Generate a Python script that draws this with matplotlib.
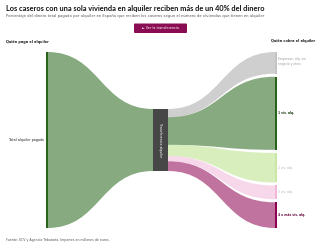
import matplotlib.pyplot as plt
from matplotlib.path import Path
from matplotlib.patches import PathPatch, FancyBboxPatch

# Data (importes en millones de euros, estimados)
source_label = "Total alquiler pagado"
middle_label = "Transferencia alquiler"
targets = ["Empresas, alq. sin\nnegocio y otros", "1 viv. alq.", "2 viv. alq.",
           "3 viv. alq.", "4 o más viv. alq."]
values = [1540, 5180, 2100, 980, 1820]

bar_colors = ["#c4c4c4", "#276419", "#c9e8a4", "#f1b6da", "#8e0152"]
band_colors = ["#a8a8a8", "#276419", "#b8e186", "#f1b6da", "#8e0152"]
label_colors = ["#9a9a9a", "#1f3f14", "#b0b0b0", "#b0b0b0", "#6a0a40"]
label_weights = ["normal", "bold", "normal", "normal", "bold"]

W, H = 320, 245
fig = plt.figure(figsize=(W / 100, H / 100), dpi=100)
ax = fig.add_axes([0, 0, 1, 1])
ax.set_xlim(0, W)
ax.set_ylim(H, 0)
ax.axis('off')


def band(x0, t0, b0, x1, t1, b1, color, alpha):
    xm = (x0 + x1) / 2
    verts = [(x0, t0), (xm, t0), (xm, t1), (x1, t1),
             (x1, b1), (xm, b1), (xm, b0), (x0, b0), (x0, t0)]
    codes = [Path.MOVETO, Path.CURVE4, Path.CURVE4, Path.CURVE4,
             Path.LINETO, Path.CURVE4, Path.CURVE4, Path.CURVE4, Path.CLOSEPOLY]
    ax.add_patch(PathPatch(Path(verts, codes), fc=color, ec='none',
                           alpha=alpha, lw=0))


# geometry
left_x, left_w = 45.5, 2
top, bottom = 52, 228
mid_x0, mid_x1 = 153, 168
mid_top, mid_bot = 109, 171
right_x, right_w = 275, 2
gap = 3

total = sum(values)
scale = (bottom - top - gap * (len(values) - 1)) / total
mid_scale = (mid_bot - mid_top) / total

# left flow into the middle node
band(left_x + left_w, top, bottom, mid_x0, mid_top, mid_bot, "#276419", 0.55)
ax.add_patch(plt.Rectangle((left_x, top), left_w, bottom - top,
                           fc="#276419", ec='none'))

# right flows
y_right = top
y_mid = mid_top
for name, v, bc, fc, lc, lw in zip(targets, values, bar_colors, band_colors,
                                   label_colors, label_weights):
    h = v * scale
    hm = v * mid_scale
    band(mid_x1, y_mid, y_mid + hm, right_x, y_right, y_right + h, fc, 0.55)
    ax.add_patch(plt.Rectangle((right_x, y_right), right_w, h, fc=bc, ec='none'))
    if "\n" in name:
        ax.text(right_x + 3, y_right + 4.5, name, fontsize=2.2, color=lc,
                va='top', ha='left', fontweight=lw, linespacing=1.4)
    else:
        ax.text(right_x + 3, y_right + h / 2, name, fontsize=2.2, color=lc,
                va='center', ha='left', fontweight=lw)
    y_right += h + gap
    y_mid += hm

# middle node
ax.add_patch(plt.Rectangle((mid_x0, mid_top), mid_x1 - mid_x0, mid_bot - mid_top,
                           fc="#474747", ec='none'))
ax.text((mid_x0 + mid_x1) / 2, (mid_top + mid_bot) / 2, middle_label,
        rotation=270, fontsize=2.3, color='white', ha='center', va='center')

# node labels
ax.text(left_x - 1.5, (top + bottom) / 2, source_label, fontsize=2.45,
        color='#222222', ha='right', va='center')
ax.text(6, 42, "Quién paga el alquiler", fontsize=2.5, fontweight='bold',
        color='#222222', ha='left', va='center')
ax.text(271, 41, "Quién cobra el alquiler", fontsize=2.5, fontweight='bold',
        color='#222222', ha='left', va='center')

# titles
ax.text(6, 8, "Los caseros con una sola vivienda en alquiler reciben más de un 40% del dinero",
        fontsize=5.3, fontweight='bold', color='#111111', ha='left', va='center',
        family='Lato')
ax.text(6, 16, "Porcentaje del dinero total pagado por alquiler en España que reciben "
        "los caseros según el número de viviendas que tienen en alquiler",
        fontsize=2.7, color='#555555', ha='left', va='center')

# button
ax.add_patch(FancyBboxPatch((134, 23.5), 53, 9.5, boxstyle="round,pad=0,rounding_size=1",
                            fc="#8a0c52", ec='none'))
ax.text(160.5, 28.3, "► Ver la transferencia", fontsize=2.4, color='white',
        ha='center', va='center')

# footer
ax.text(6, 240, "Fuente: ECV y Agencia Tributaria. Importes en millones de euros.",
        fontsize=2.35, color='#555555', ha='left', va='center')

fig.savefig("out.png", dpi=100)
